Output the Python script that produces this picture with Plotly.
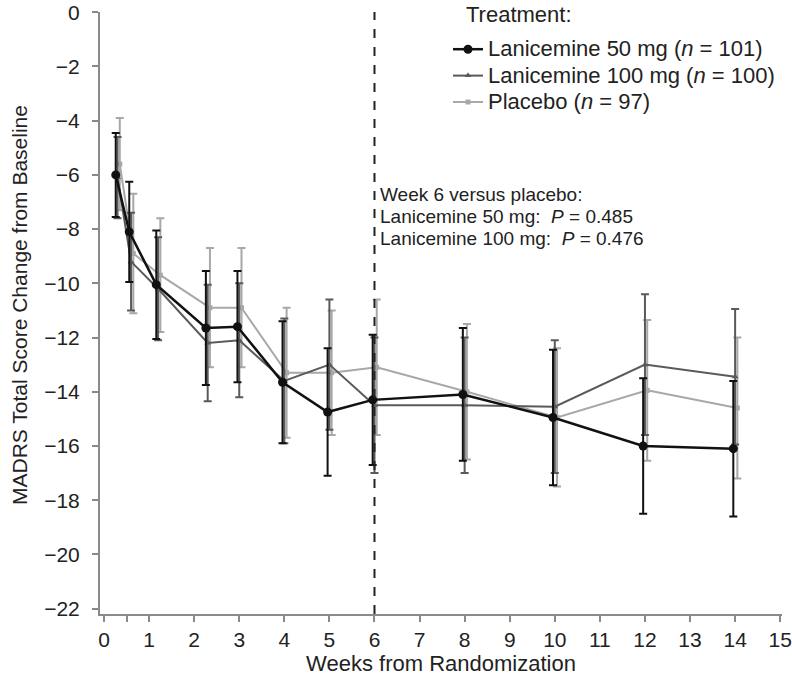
import plotly.graph_objects as go

weeks = [0.3, 0.6, 1.2, 2.3, 3.0, 4, 5, 6, 8, 10, 12, 14]

lan50 = [-6.0, -8.1, -10.05, -11.65, -11.6, -13.65, -14.75, -14.3, -14.1, -14.95, -16.0, -16.1]
lan50_err = [1.55, 1.85, 2.0, 2.1, 2.05, 2.25, 2.35, 2.4, 2.45, 2.5, 2.5, 2.5]

lan100 = [-6.1, -9.2, -10.2, -12.2, -12.1, -13.6, -13.0, -14.5, -14.5, -14.55, -13.0, -13.45]
lan100_err = [1.5, 1.8, 1.9, 2.15, 2.1, 2.3, 2.4, 2.5, 2.5, 2.45, 2.6, 2.5]

placebo = [-5.6, -8.9, -9.7, -10.9, -10.9, -13.3, -13.3, -13.1, -14.0, -14.95, -13.95, -14.6]
placebo_err = [1.7, 2.2, 2.1, 2.2, 2.2, 2.4, 2.3, 2.5, 2.5, 2.55, 2.6, 2.6]

x_tickvals = [0, 0.5, 1, 2, 3, 4, 5, 6, 7, 8, 9, 10, 11, 12, 13, 14, 15]
x_ticktext = ["0", "", "1", "2", "3", "4", "5", "6", "7", "8", "9", "10", "11", "12", "13", "14", "15"]
y_tickvals = [0, -2, -4, -6, -8, -10, -12, -14, -16, -18, -20, -22]

FONT = "Liberation Sans, Arial, sans-serif"

series = [
    ("Lanicemine 50 mg (<i>n</i> = 101)", lan50, lan50_err, "#111111", "circle", 9, 2.5, -0.04),
    ("Lanicemine 100 mg (<i>n</i> = 100)", lan100, lan100_err, "#5a5a5a", "triangle-up", 6, 2, 0.0),
    ("Placebo (<i>n</i> = 97)", placebo, placebo_err, "#a8a8a8", "square", 5, 2, 0.05),
]

fig = go.Figure()
for name, vals, err, color, sym, msize, lw, dx in reversed(series):
    fig.add_trace(go.Scatter(
        x=[w + dx for w in weeks], y=vals,
        name='<span style="font-size:22px">' + name + '</span>',
        mode="lines+markers",
        line=dict(color=color, width=lw),
        marker=dict(color=color, symbol=sym, size=msize),
        error_y=dict(type="data", array=err, visible=True, color=color, thickness=2, width=4),
    ))

fig.add_shape(type="line", x0=6, x1=6, y0=0, y1=1, xref="x", yref="paper",
              line=dict(color="#222222", width=2, dash="dash"))

# page-pixel helpers (plot area spans x 100..782, y 12..614)
def px(x):
    return (x - 100) / 682

def py(y):
    return (614 - y) / 602

fig.add_annotation(x=px(464), y=py(14), xref="paper", yref="paper",
                   text="Treatment:", showarrow=False, xanchor="left", yanchor="middle",
                   font=dict(size=22, color="#222222", family=FONT))

fig.add_annotation(x=px(19), y=py(305), xref="paper", yref="paper",
                   text="MADRS Total Score Change from Baseline", showarrow=False,
                   textangle=-90, xanchor="center", yanchor="middle",
                   font=dict(size=21, color="#222222", family=FONT))

ann_lines = ["Week 6 versus placebo:",
             "Lanicemine 50 mg:  <i>P</i> = 0.485",
             "Lanicemine 100 mg:  <i>P</i> = 0.476"]
for i, t in enumerate(ann_lines):
    fig.add_annotation(x=px(378), y=py(194 + 22.5 * i), xref="paper", yref="paper",
                       text=t, showarrow=False, xanchor="left", yanchor="middle",
                       font=dict(size=19, color="#222222", family=FONT))

axis_common = dict(showline=True, linecolor="#8a8a8a", linewidth=2, ticks="outside",
                   tickcolor="#8a8a8a", tickwidth=2, ticklen=6, showgrid=False, zeroline=False,
                   automargin=False, ticklabeloverflow="allow",
                   tickfont=dict(size=21, color="#222222", family=FONT))

fig.update_layout(
    width=792, height=691,
    margin=dict(l=100, r=10, t=12, b=77),
    paper_bgcolor="white", plot_bgcolor="white",
    font=dict(family=FONT, color="#222222"),
    xaxis=dict(range=[-0.089, 15.04], tickvals=x_tickvals, ticktext=x_ticktext,
               title=dict(text="Weeks from Randomization", font=dict(size=22), standoff=4),
               **axis_common),
    yaxis=dict(range=[-22.2, 0.01], tickvals=y_tickvals, ticklabelstandoff=8,
               **axis_common),
    legend=dict(x=px(448), y=py(31), xanchor="left", yanchor="top",
                font=dict(size=18, color="#222222", family=FONT), traceorder="reversed",
                bgcolor="rgba(0,0,0,0)", itemwidth=30, tracegroupgap=0),
    showlegend=True,
)

fig.write_html("out.html", config={"displayModeBar": False},
               post_script="document.body.style.margin='0';")
